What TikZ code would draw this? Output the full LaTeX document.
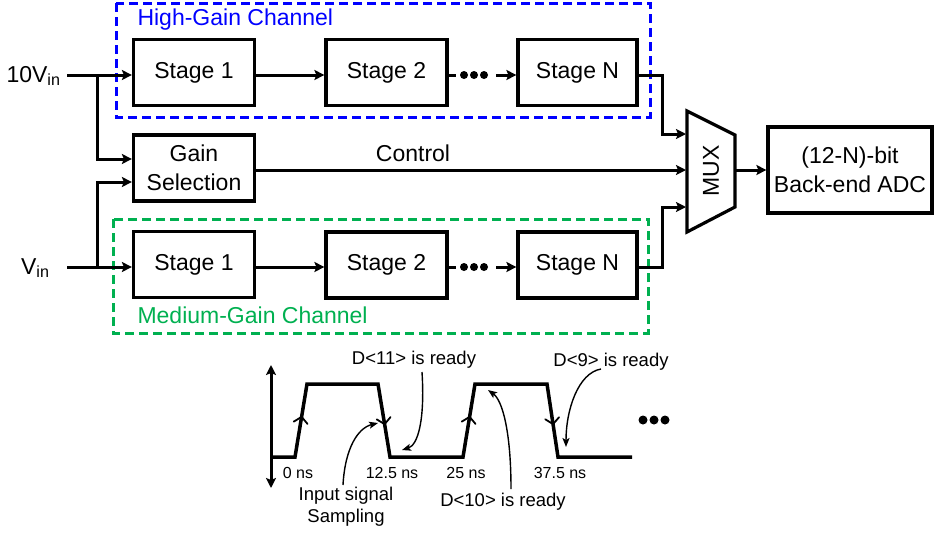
\documentclass[tikz,border=0pt]{standalone}
\usepackage{fontspec}
\setmainfont{Liberation Sans}
\usetikzlibrary{arrows.meta,decorations.markings}
\definecolor{hgblue}{RGB}{0,0,255}
\definecolor{mggreen}{RGB}{0,176,80}
\tikzset{
  blk/.style={draw, line width=3.2pt, minimum width=121pt, minimum height=66pt, inner sep=0pt, font=\fontsize{23}{29}\selectfont, align=center},
  wire/.style={line width=3pt},
  arr/.style={wire, -{Stealth[length=10pt,width=10pt,inset=2pt]}},
  thinarr/.style={line width=1.4pt, -{Stealth[length=9pt,width=7pt,inset=2pt]}},
  chan/.style={line width=3pt, dash pattern=on 9pt off 5pt},
  big/.style={font=\fontsize{23}{29}\selectfont},
  tlab/.style={font=\fontsize{16}{20}\selectfont},
  dlab/.style={font=\fontsize{18.5}{22}\selectfont, align=center},
  wave/.style={line width=3.5pt, line join=miter},
  edgeup/.style={decorate, decoration={markings, mark=at position 0.55 with {\draw[line width=1.8pt, line cap=round] (-6pt,7pt) -- (0pt,0pt) -- (-6pt,-7pt);}}},
}
\begin{document}
\begin{tikzpicture}[x=1pt,y=-1pt]
\useasboundingbox (0,0) rectangle (934,533);

% channel frames
\draw[chan, hgblue] (116,3) rectangle (650,117);
\node[big, text=hgblue, anchor=west] (hgl) at (134,20) {High-Gain Channel};
\draw[chan, mggreen] (113,219) rectangle (648,333);
\node[big, text=mggreen, anchor=west] (mgl) at (134,315) {Medium-Gain Channel};

% blocks
\node[blk] (hs1) at (194,72.5) {Stage 1};
\node[blk] (hs2) at (386.5,72.5) {Stage 2};
\node[blk, minimum width=119pt] (hsN) at (577.5,72.5) {Stage N};
\node[blk] (gs) at (194,168) {Gain\\Selection};
\node[blk] (ms1) at (194,264.5) {Stage 1};
\node[blk] (ms2) at (386.5,265) {Stage 2};
\node[blk, minimum width=119pt] (msN) at (577.5,265) {Stage N};
\node[blk, minimum width=164pt, minimum height=86pt] (adc) at (850,170) {(12-N)-bit\\Back-end ADC};

% MUX
\coordinate (mtl) at (687,111);
\coordinate (mtr) at (735,135);
\coordinate (mbr) at (735,207);
\coordinate (mbl) at (687,232);
\draw[line width=3.2pt, line join=miter] (mtl) -- (mtr) -- (mbr) -- (mbl) -- cycle;
\node[big, rotate=90] (muxl) at (711,171) {MUX};
\coordinate (mi1) at (686,134);
\coordinate (mi2) at (686,170);
\coordinate (mi3) at (686,207);
\coordinate (mo) at (735,170);

% inputs
\node[big, anchor=east] (vin10) at (64,76) {10V\textsubscript{in}};
\node[big, anchor=east] (vin) at (53,268) {V\textsubscript{in}};
\coordinate (a0) at (67,75);
\coordinate (a1) at (97,75);
\coordinate (b0) at (67,267);
\coordinate (b1) at (97,267);
\draw[arr] (a0) -- (a0 -| hs1.west);
\draw[arr] (a1) |- (gs.west |- 0,159);
\draw[arr] (b0) -- (b0 -| ms1.west);
\draw[arr] (b1) |- (gs.west |- 0,182);

% high gain chain
\draw[arr] (hs1.east |- 0,75) -- (hs2.west |- 0,75);
\draw[wire] (hs2.east |- 0,75) -- (456,75);
\fill (464,75) circle (4pt) (474,75) circle (4pt) (484,75) circle (4pt);
\draw[arr] (496,75) -- (hsN.west |- 0,75);
\draw[arr] (hsN.east |- 0,75) -| (662,134) -- (mi1);

% medium gain chain
\draw[arr] (ms1.east |- 0,267) -- (ms2.west |- 0,267);
\draw[wire] (ms2.east |- 0,267) -- (456,267);
\fill (464,267) circle (4pt) (474,267) circle (4pt) (484,267) circle (4pt);
\draw[arr] (496,267) -- (msN.west |- 0,267);
\draw[arr] (msN.east |- 0,267) -| (662,207) -- (mi3);

% control
\draw[arr] (gs.east |- 0,170) -- (mi2);
\node[big] (ctl) at (413,153) {Control};

% mux to adc
\draw[arr] (mo) -- (adc.west |- mo);

% timing diagram
\draw[line width=3pt, {Stealth[length=10pt,width=10pt,inset=2pt]}-{Stealth[length=10pt,width=10pt,inset=2pt]}] (271,488) -- (271,365);
\coordinate (w0) at (271,457);
\coordinate (w1) at (295,457);
\coordinate (w2) at (307,384);
\coordinate (w3) at (378,384);
\coordinate (w4) at (390,457);
\coordinate (w5) at (463,457);
\coordinate (w6) at (475,384);
\coordinate (w7) at (547,384);
\coordinate (w8) at (558,457);
\coordinate (w9) at (632,457);
\draw[wave] (w0) -- (w1) -- (w2) -- (w3) -- (w4) -- (w5) -- (w6) -- (w7) -- (w8) -- (w9);
\path[edgeup] (w1) -- (w2);
\path[edgeup] (w3) -- (w4);
\path[edgeup] (w5) -- (w6);
\path[edgeup] (w7) -- (w8);
\fill (643,420) circle (4.5pt) (654,420) circle (4.5pt) (665,420) circle (4.5pt);

\node[tlab] (t0) at (298,473) {0 ns};
\node[tlab] (t1) at (392,473) {12.5 ns};
\node[tlab] (t2) at (466,473) {25 ns};
\node[tlab] (t3) at (560,473) {37.5 ns};

\node[dlab] (isl) at (346,507) {Input signal\\Sampling};
\node[dlab] (d11) at (414,360) {D<11> is ready};
\node[dlab] (d10) at (503,502) {D<10> is ready};
\node[dlab] (d9) at (611,362) {D<9> is ready};

\coordinate (p1) at (378,423);
\coordinate (p2) at (402,450);
\coordinate (p3) at (488,390);
\coordinate (p4) at (566,447);
\draw[thinarr] (343,485) .. controls (345,448) and (358,428) .. (p1);
\draw[thinarr] (422,372) .. controls (425,420) and (418,445) .. (p2);
\draw[thinarr] (511,489) .. controls (511,430) and (502,400) .. (p3);
\draw[thinarr] (601,369) .. controls (578,373) and (566,410) .. (p4);
\end{tikzpicture}
\end{document}
